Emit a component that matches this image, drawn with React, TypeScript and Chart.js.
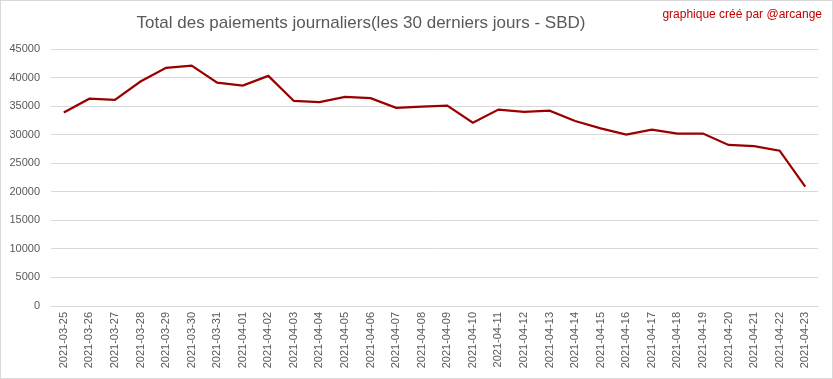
import React, { useEffect, useRef } from "react";
import { Chart, registerables } from "chart.js";

Chart.register(...registerables);

const TITLE = "Total des paiements journaliers(les 30 derniers jours - SBD)";
const CREDIT = "graphique créé par @arcange";

const dates = [
  "2021-03-25", "2021-03-26", "2021-03-27", "2021-03-28", "2021-03-29", "2021-03-30",
  "2021-03-31", "2021-04-01", "2021-04-02", "2021-04-03", "2021-04-04", "2021-04-05",
  "2021-04-06", "2021-04-07", "2021-04-08", "2021-04-09", "2021-04-10", "2021-04-11",
  "2021-04-12", "2021-04-13", "2021-04-14", "2021-04-15", "2021-04-16", "2021-04-17",
  "2021-04-18", "2021-04-19", "2021-04-20", "2021-04-21", "2021-04-22", "2021-04-23",
];

const payments = [
  33900, 36300, 36100, 39300, 41700, 42100,
  39100, 38600, 40300, 35900, 35700, 36600,
  36400, 34700, 34900, 35100, 32100, 34400,
  34000, 34200, 32400, 31100, 30000, 30900,
  30200, 30200, 28200, 28000, 27200, 20900,
];

const yMin = 0;
const yMax = 45000;
const yStep = 5000;

const FONT = "'Liberation Sans', Arial, sans-serif";

export default function App() {
  const ref = useRef<HTMLCanvasElement | null>(null);

  useEffect(() => {
    if (!ref.current) return;
    const textPlugin = {
      id: "texts",
      afterDraw(chart: any) {
        const ctx = chart.ctx;
        ctx.save();
        ctx.fillStyle = "#595959";
        ctx.font = `17px ${FONT}`;
        ctx.textAlign = "center";
        ctx.textBaseline = "middle";
        ctx.fillText(TITLE, 361, 23);
        ctx.fillStyle = "#c00000";
        ctx.font = `12px ${FONT}`;
        ctx.textAlign = "right";
        ctx.fillText(CREDIT, 822, 15);
        ctx.restore();
      },
    };
    const chart = new Chart(ref.current, {
      type: "line",
      data: {
        labels: dates,
        datasets: [
          {
            data: payments,
            borderColor: "#9a0000",
            borderWidth: 2.25,
            pointRadius: 0,
            tension: 0,
            fill: false,
          },
        ],
      },
      options: {
        responsive: false,
        animation: false,
        layout: { padding: { top: 49, right: 15, left: 0, bottom: 0 } },
        plugins: {
          legend: { display: false },
          tooltip: { enabled: false },
          title: { display: false },
        },
        scales: {
          x: {
            offset: true,
            grid: { display: false, drawTicks: false },
            border: { display: true, color: "#d9d9d9" },
            ticks: {
              autoSkip: false,
              minRotation: 90,
              maxRotation: 90,
              padding: 6,
              color: "#595959",
              font: { family: FONT, size: 11 },
            },
            afterFit(scale: any) {
              scale.height = 73;
            },
          },
          y: {
            min: yMin,
            max: yMax,
            grid: { color: "#d9d9d9", drawTicks: false, lineWidth: 1 },
            border: { display: false },
            ticks: {
              stepSize: yStep,
              padding: 11,
              color: "#595959",
              font: { family: FONT, size: 11 },
              callback: (v: any) => String(v),
            },
            afterFit(scale: any) {
              scale.width = 51;
            },
          },
        },
      },
      plugins: [textPlugin],
    });
    return () => chart.destroy();
  }, []);

  return (
    <div
      style={{
        position: "fixed",
        left: 0,
        top: 0,
        width: 833,
        height: 379,
        background: "#fff",
      }}
    >
      <canvas ref={ref} width={833} height={379} style={{ display: "block" }} />
      <div
        style={{
          position: "absolute",
          left: 0,
          top: 0,
          width: 833,
          height: 379,
          boxSizing: "border-box",
          border: "1px solid #d9d9d9",
          pointerEvents: "none",
        }}
      />
    </div>
  );
}
